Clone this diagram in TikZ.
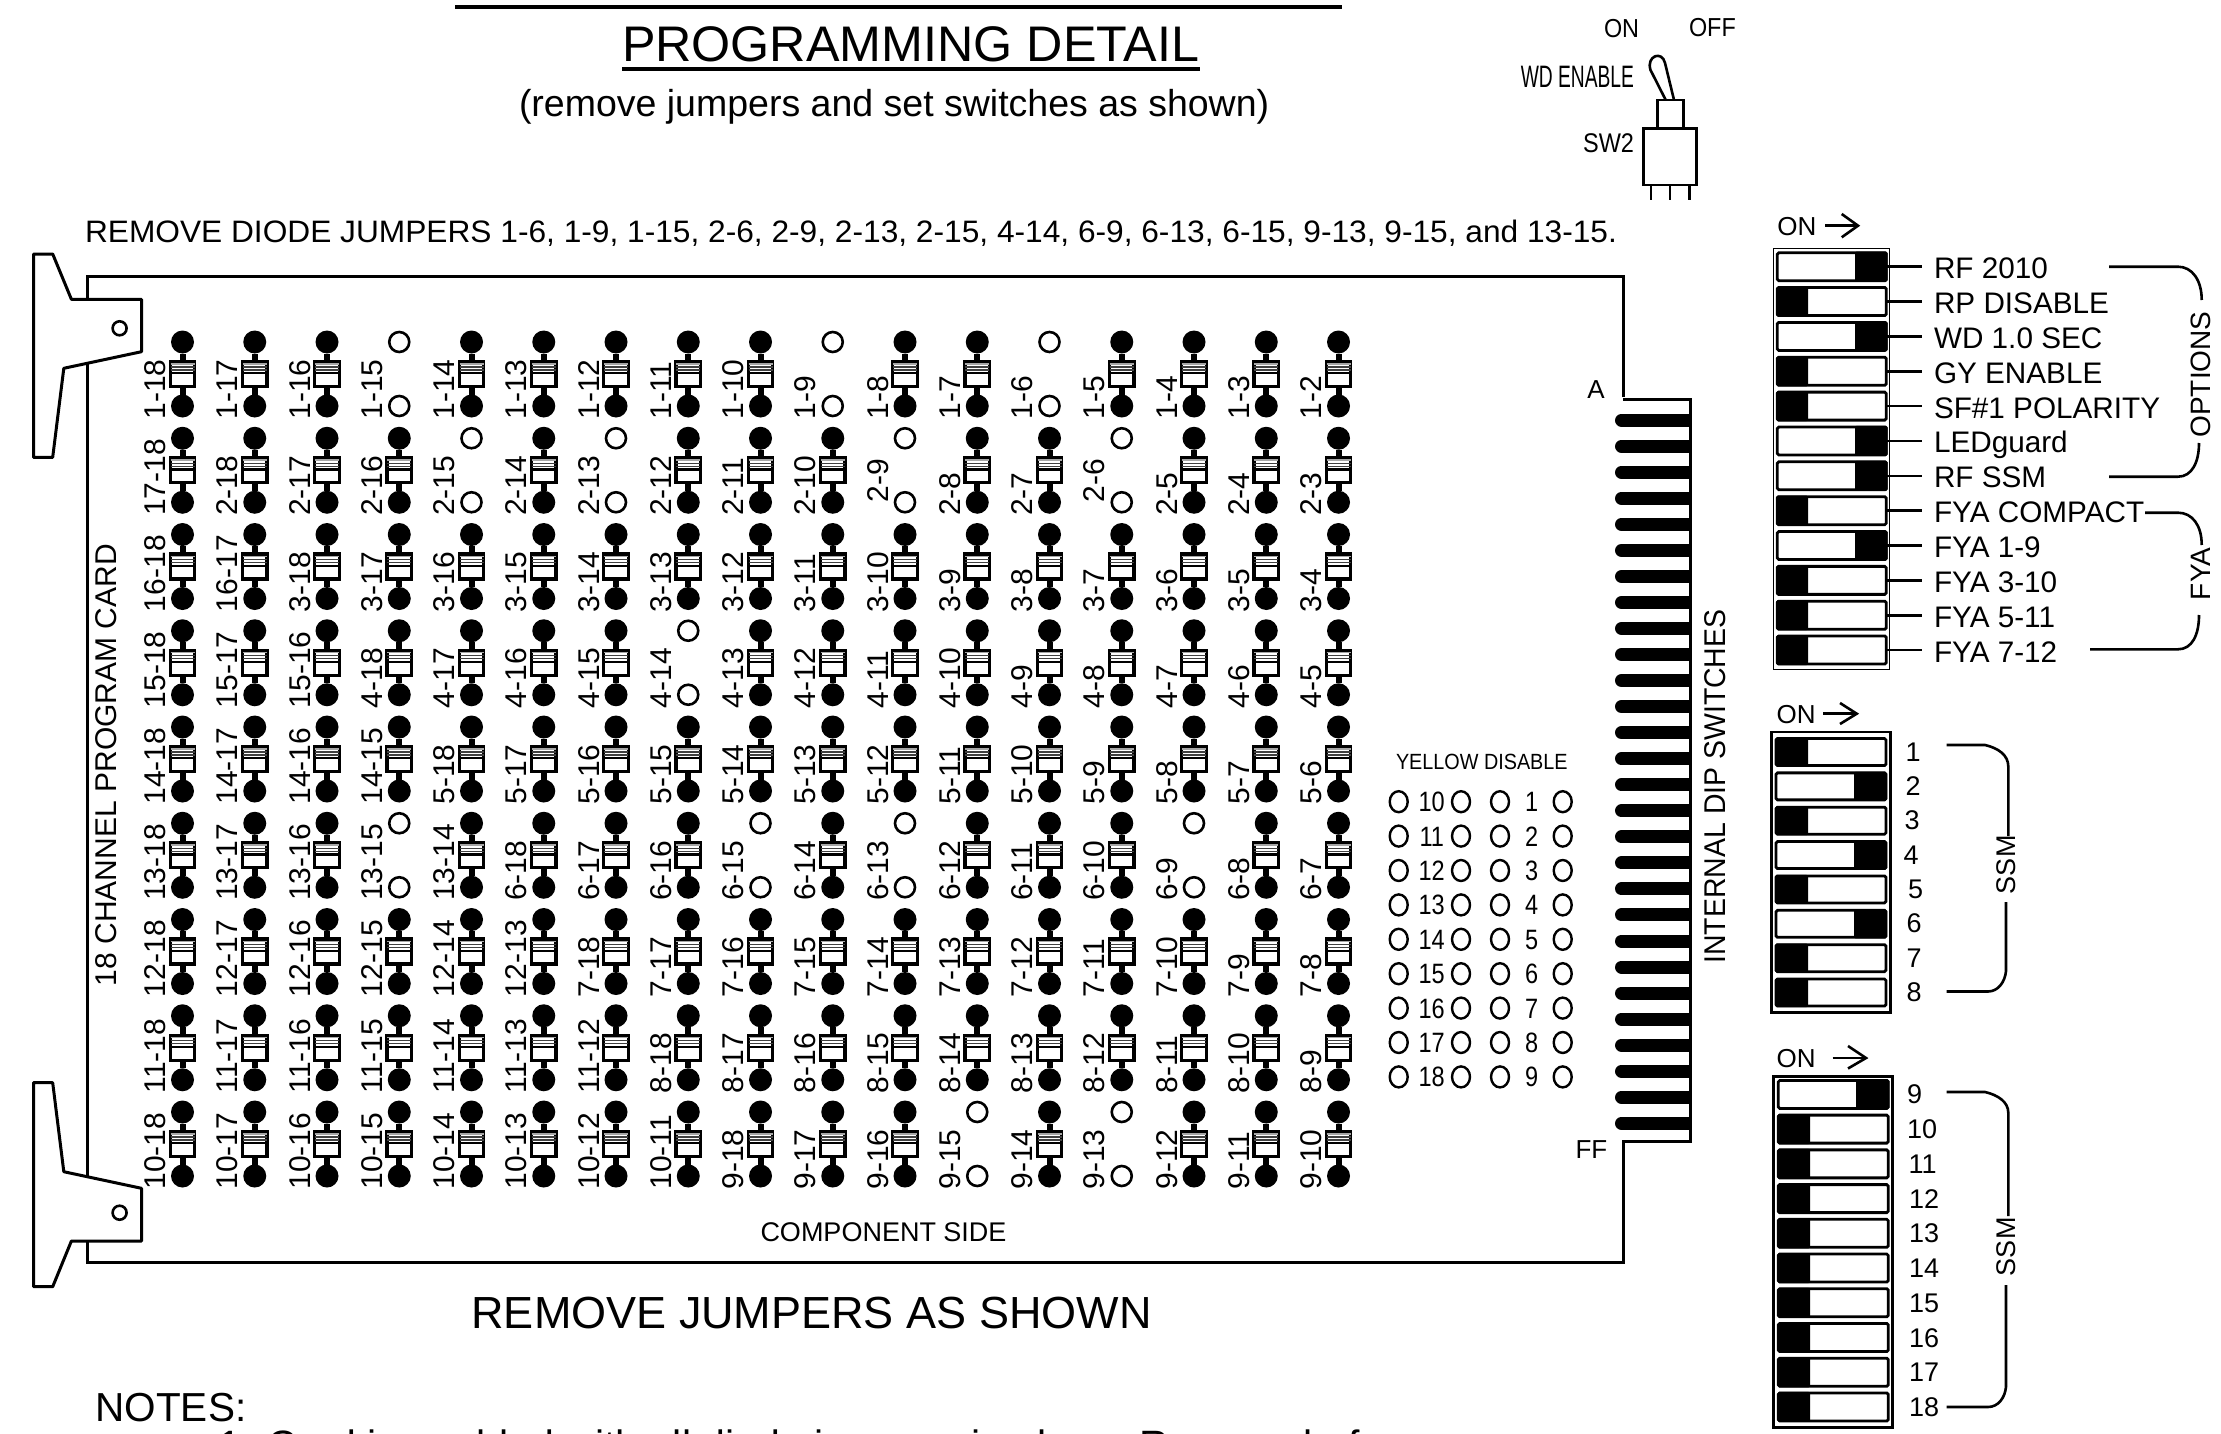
\documentclass[tikz,border=0pt]{standalone}
\usepackage{fontspec}
\usepackage{graphicx}
\setmainfont{Liberation Sans}
\newcommand{\fs}[1]{\fontsize{#1}{#1}\selectfont}
\newcommand{\sx}[2]{\scalebox{#1}[1]{#2}}
\newcommand{\rmv}[1]{\expandafter\gdef\csname rm#1\endcsname{}}
\rmv{1-6}\rmv{1-9}\rmv{1-15}\rmv{2-6}\rmv{2-9}\rmv{2-13}\rmv{2-15}\rmv{4-14}\rmv{6-9}\rmv{6-13}\rmv{6-15}\rmv{9-13}\rmv{9-15}\rmv{13-15}
\newcommand{\rup}[1]{\expandafter\gdef\csname up#1\endcsname{}}
\rup{2-9}\rup{2-6}
\tikzset{
  txt/.style={inner sep=0pt,outer sep=0pt,anchor=base west},
  txtc/.style={inner sep=0pt,outer sep=0pt,anchor=base},
  vtxt/.style={inner sep=0pt,outer sep=0pt,anchor=base west,rotate=90},
  board/.style={line width=3pt,line join=miter},
  handle/.style={line width=3pt,fill=white,line join=round},
  ringhole/.style={circle,draw,line width=2.6pt,fill=white,minimum size=14pt,inner sep=0pt},
  dotpad/.style={circle,fill=black,minimum size=23pt,inner sep=0pt,outer sep=0pt},
  hole/.style={circle,draw,line width=2.6pt,minimum size=20pt,inner sep=0pt,outer sep=0pt},
  jbox/.style={rectangle,draw,line width=3.4pt,fill=white,minimum width=24.5pt,minimum height=25pt,inner sep=0pt,outer sep=0pt},
  stem/.style={line width=6pt},
  finger/.style={line width=13pt},
  dipframe/.style={draw,inner sep=0pt,outer sep=0pt,rectangle},
  dipsw/.style={rectangle,draw,line width=2.8pt,fill=white,rounded corners=1.5pt,inner sep=0pt,outer sep=0pt},
  lead/.style={line width=2.6pt},
  brk/.style={line width=2.6pt},
  yring/.style={ellipse,draw,line width=2.4pt,minimum width=18pt,minimum height=21pt,inner sep=0pt},
}
\usetikzlibrary{shapes.geometric}
\begin{document}
\begin{tikzpicture}[x=1pt,y=-1pt]
\useasboundingbox (0,0) rectangle (2221,1434);
\clip (0,0) rectangle (2221,1434);
% title
\coordinate (ul1a) at (455,7); \coordinate (ul1b) at (1342,7);
\draw[line width=4pt] (ul1a) -- (ul1b);
\node[txt] (title2) at (622,62) {\fs{50}\sx{1.005}{PROGRAMMING DETAIL}};
\coordinate (ul2a) at (622,69.5); \coordinate (ul2b) at (1200,69.5);
\draw[line width=4pt] (ul2a) -- (ul2b);
\node[txt] (subt) at (519,116.5) {\fs{37.5}(remove jumpers and set switches as shown)};
\node[txt] (rmtxt) at (85,242.5) {\fs{31}\sx{1.022}{REMOVE DIODE JUMPERS 1-6, 1-9, 1-15, 2-6, 2-9, 2-13, 2-15, 4-14, 6-9, 6-13, 6-15, 9-13, 9-15, and 13-15.}};
% toggle switch
\node[txt] (on) at (1604,38) {\fs{26}\sx{.9}{ON}};
\node[txt] (off) at (1689,37) {\fs{26}\sx{.9}{OFF}};
\node[txt,anchor=base east] (wd) at (1634,87.7) {\fs{31}\sx{.62}{WD ENABLE}};
\node[txt,anchor=base east] (sw2) at (1634,152.7) {\fs{27}\sx{.87}{SW2}};
\draw[line width=2.6pt,line join=round] (1665.7,100) -- (1650.5,70) .. controls (1646,56) and (1662,50) .. (1665,63) -- (1674,100);
\node[rectangle,draw,line width=2.6pt,minimum width=26pt,minimum height=28pt,inner sep=0pt,outer sep=0pt] (neck) at (1670.3,114) {};
\node[rectangle,draw,line width=2.6pt,minimum width=53.4pt,minimum height=56.7pt,inner sep=0pt,outer sep=0pt] (body) at (1670,156.6) {};
\foreach \px in {1651,1670,1689.3} \draw[line width=2.4pt] (\px,185) -- (\px,200);
% board
\draw[board] (1623,397) -- (1623,276.7) -- (87.5,276.7) -- (87.5,1262.7) -- (1623,1262.7) -- (1623,1141.7) -- (1690.7,1141.7) -- (1690.7,399) -- (1623,399);
\foreach \i in {0,...,27} {
  \pgfmathsetmacro{\fy}{1123.3-26.04*(27-\i)}
  \draw[finger,line cap=round] (1621.5,\fy) -- (1680,\fy);
  \draw[finger] (1670,\fy) -- (1689.5,\fy);
}
% handles
\draw[handle] (33.5,254) -- (52.7,254) -- (71.4,299.3) -- (141.5,299.3) -- (141.5,351.7) -- (63.8,368.3) -- (52.7,457.3) -- (33.5,457.3) -- cycle;
\node[ringhole] (h1) at (119.6,328.3) {};
\draw[handle] (33.5,1082.7) -- (52.7,1082.7) -- (63.8,1171.7) -- (141.5,1188.3) -- (141.5,1241) -- (71.4,1241) -- (52.7,1286.7) -- (33.5,1286.7) -- cycle;
\node[ringhole] (h2) at (119.6,1212.7) {};
% board labels
\node[vtxt] (bname) at (116.5,986) {\fs{30}18 CHANNEL PROGRAM CARD};
\node[vtxt] (dips) at (1725,963.5) {\fs{30}\sx{.948}{INTERNAL DIP SWITCHES}};
\node[txtc] (aa) at (1596,398) {\fs{26}A};
\node[txt] (ff) at (1575.5,1158.5) {\fs{26}FF};
\node[txtc] (comp) at (883.5,1241.5) {\fs{27}COMPONENT SIDE};
\node[txt] (rmj) at (471.5,1328.5) {\fs{45}REMOVE JUMPERS AS SHOWN};
\node[txt] (notes) at (95.5,1421) {\fs{40.5}NOTES:};
\node[txt] (note1) at (218,1459) {\fs{41}1. Card is enabled with all diode jumpers in place. Remove before};
% jumper grid
\foreach \r in {1,...,9} {
 \foreach \c in {1,...,17} {
  \pgfmathsetmacro{\jx}{182.5+72.25*(\c-1)}
  \pgfmathsetmacro{\jy}{342+96.25*(\r-1)}
  \ifnum\c<\r
    \pgfmathtruncatemacro{\ja}{19-\r}
    \pgfmathtruncatemacro{\jb}{19-\c}
  \else
    \pgfmathtruncatemacro{\ja}{\r}
    \pgfmathtruncatemacro{\jb}{18+\r-\c}
  \fi
  \ifcsname rm\ja-\jb\endcsname
    \node[hole] (t\r x\c) at (\jx,\jy) {};
    \node[hole] (u\r x\c) at (\jx,\jy+64) {};
  \else
    \node[dotpad] (t\r x\c) at (\jx,\jy) {};
    \node[dotpad] (u\r x\c) at (\jx,\jy+64) {};
    \node[jbox] (b\r x\c) at (\jx,\jy+32) {};
    \draw[stem] (t\r x\c) -- (b\r x\c);
    \draw[stem] (b\r x\c) -- (u\r x\c);
    \draw[line width=1.6pt,gray!70] (\jx-12,\jy+21.8) -- (\jx+12,\jy+21.8);
    \draw[line width=1.3pt,black!75] (\jx-12,\jy+25) -- (\jx+12,\jy+25);
    \draw[line width=1.3pt,black!75] (\jx-12,\jy+28) -- (\jx+12,\jy+28);
    \draw[line width=2.2pt] (\jx-12,\jy+31.2) -- (\jx+12,\jy+31.2);
  \fi
  \ifcsname up\ja-\jb\endcsname
    \node[vtxt] (l\r x\c) at (\jx-17,\jy+64) {\fs{30}\ja-\jb};
  \else
    \node[vtxt] (l\r x\c) at (\jx-17,\jy+77.5) {\fs{30}\ja-\jb};
  \fi
 }
}
% yellow disable
\node[txt] (ytitle) at (1396,769) {\fs{22}\sx{.9}{YELLOW DISABLE}};
\foreach \la [count=\i from 0] in {10,...,18} {
  \pgfmathsetmacro{\yy}{801.7+34.4*\i}
  \pgfmathtruncatemacro{\lb}{\i+1}
  \node[yring] (ya\i) at (1398.7,\yy) {};
  \node[yring] (yb\i) at (1461,\yy) {};
  \node[yring] (yc\i) at (1500,\yy) {};
  \node[yring] (yd\i) at (1562.7,\yy) {};
  \node[txtc] (yl\i) at (1431.7,\yy+10) {\fs{28}\sx{.84}{\la}};
  \node[txtc] (yr\i) at (1531.7,\yy+10) {\fs{28}\sx{.84}{\lb}};
}
% DIP block 1
\node[dipframe,line width=1.2pt,minimum width=116pt,minimum height=421pt] (f1) at (1831.3,458.8) {};
\node[txt] (on1) at (1777.3,235) {\fs{26}ON};
\coordinate (a1s) at (1825,225.7); \coordinate (a1e) at (1858,225.7);
\draw[line width=2.6pt] (a1s) -- (a1e);
\draw[line width=2.6pt] (1841.7,214) -- (a1e) -- (1841.7,237.3);
\foreach \lab/\sd [count=\i from 0] in {RF 2010/1,RP DISABLE/0,WD 1.0 SEC/1,GY ENABLE/0,SF\#1 POLARITY/0,LEDguard/1,RF SSM/1,FYA COMPACT/0,FYA 1-9/1,FYA 3-10/0,FYA 5-11/0,FYA 7-12/0} {
  \pgfmathsetmacro{\yy}{266.7+34.85*\i}
  \node[dipsw,minimum width=109pt,minimum height=28pt] (sa\i) at (1831.8,\yy) {};
  \ifnum\sd=1
    \fill[rounded corners=1.5pt] (1855,\yy-15) rectangle (1887.7,\yy+15);
  \else
    \fill[rounded corners=1.5pt] (1776,\yy-15) rectangle (1808,\yy+15);
  \fi
  \node[txt] (la\i) at (1934,\yy+12) {\fs{29.7}\lab};
  \coordinate (ea\i) at (1921.7,\yy);
  \draw[lead] (sa\i.east) -- (ea\i);
}
\coordinate (o1) at (2109,266.7); \coordinate (o2) at (2201.7,300);
\draw[brk] (o1) -- (2178,266.7) .. controls (2192,266.7) and (2201.7,280) .. (o2);
\node[vtxt] (opt) at (2210,437.5) {\fs{28}OPTIONS};
\coordinate (o3) at (2199,443); \coordinate (o4) at (2109,476.7);
\draw[brk] (o3) .. controls (2199,462) and (2192,476.7) .. (2178,476.7) -- (o4);
\coordinate (y1) at (2145,512.7); \coordinate (y2) at (2201.7,545);
\draw[brk] (y1) -- (2178,512.7) .. controls (2192,512.7) and (2201.7,525) .. (y2);
\node[vtxt] (fya) at (2210,600) {\fs{28}FYA};
\coordinate (y3) at (2199,615); \coordinate (y4) at (2090,649.3);
\draw[brk] (y3) .. controls (2199,635) and (2192,649.3) .. (2178,649.3) -- (y4);
% DIP block 2
\node[dipframe,line width=2.6pt,minimum width=119pt,minimum height=280.7pt] (f2) at (1831.2,872.3) {};
\node[txt] (on2) at (1776.7,723) {\fs{26}ON};
\coordinate (a2s) at (1823,713.7); \coordinate (a2e) at (1856.7,713.7);
\draw[line width=2.6pt] (a2s) -- (a2e);
\draw[line width=2.6pt] (1840,703) -- (a2e) -- (1840,724);
\foreach \lab/\sd/\lx [count=\i from 0] in {1/0/1905.7,2/1/1905.7,3/0/1904.5,4/1/1903.5,5/0/1908,6/1/1906.5,7/0/1906.5,8/0/1906.5} {
  \pgfmathsetmacro{\yy}{752+34.36*\i}
  \node[dipsw,minimum width=110pt,minimum height=27pt] (sb\i) at (1831,\yy) {};
  \ifnum\sd=1
    \fill[rounded corners=1.5pt] (1854,\yy-14.5) rectangle (1887,\yy+14.5);
  \else
    \fill[rounded corners=1.5pt] (1775,\yy-14.5) rectangle (1808,\yy+14.5);
  \fi
  \node[txt] (lb\i) at (\lx,\yy+9) {\fs{27}\lab};
}
\coordinate (s1) at (1946.7,745); \coordinate (s2) at (2008.3,836);
\draw[brk] (s1) -- (1985,745) .. controls (1998,748) and (2008.3,755) .. (2008.3,766.5) -- (s2);
\node[vtxt] (ssm1) at (2015,894) {\fs{27}SSM};
\coordinate (s3) at (2006,902); \coordinate (s4) at (1946.7,991.5);
\draw[brk] (s3) -- (2006,971) .. controls (2005,982) and (1998,991.5) .. (1988,991.5) -- (s4);
% DIP block 3
\node[dipframe,line width=2.6pt,minimum width=119pt,minimum height=351pt] (f3) at (1832.8,1252.1) {};
\node[txt] (on3) at (1776.7,1067) {\fs{26}ON};
\coordinate (a3s) at (1832.7,1058); \coordinate (a3e) at (1866,1058);
\draw[line width=2.6pt] (a3s) -- (a3e);
\draw[line width=2.6pt] (1848,1046) -- (a3e) -- (1848,1068.5);
\foreach \lab/\sd/\lx [count=\i from 0] in {9/1/1907,10/0/1907,11/0/1908.5,12/0/1909,13/0/1909,14/0/1909,15/0/1909,16/0/1909,17/0/1909,18/0/1909} {
  \pgfmathsetmacro{\yy}{1094.4+34.73*\i}
  \node[dipsw,minimum width=110pt,minimum height=28pt] (sc\i) at (1833.3,\yy) {};
  \ifnum\sd=1
    \fill[rounded corners=1.5pt] (1856,\yy-15) rectangle (1889.3,\yy+15);
  \else
    \fill[rounded corners=1.5pt] (1777.3,\yy-15) rectangle (1810,\yy+15);
  \fi
  \node[txt] (lc\i) at (\lx,\yy+9.5) {\fs{27}\lab};
}
\coordinate (t1) at (1946.7,1092); \coordinate (t2) at (2008.3,1216);
\draw[brk] (t1) -- (1985,1092) .. controls (1998,1095) and (2008.3,1102) .. (2008.3,1112.7) -- (t2);
\node[vtxt] (ssm2) at (2015,1276) {\fs{27}SSM};
\coordinate (t3) at (2006,1285); \coordinate (t4) at (1946.7,1407);
\draw[brk] (t3) -- (2006,1386.7) .. controls (2005,1398) and (1998,1407) .. (1988,1407) -- (t4);
\end{tikzpicture}
\end{document}
